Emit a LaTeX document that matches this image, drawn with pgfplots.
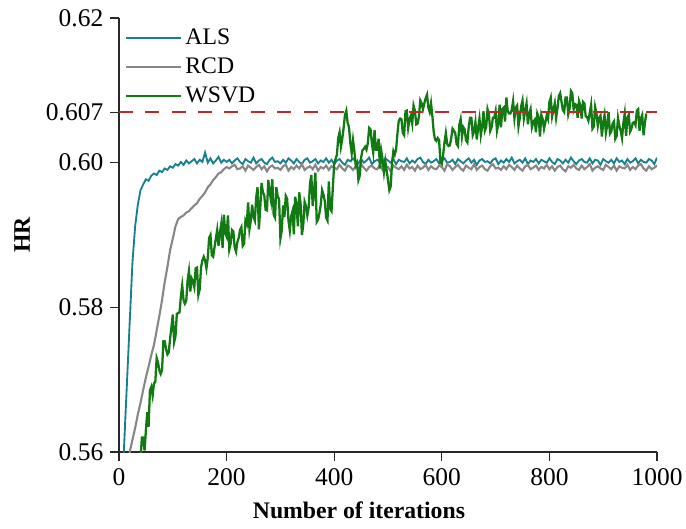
\documentclass[border=0pt]{standalone}
\usepackage{fontspec}
\setmainfont{Liberation Serif}
\usepackage{pgfplots}
\pgfplotsset{compat=1.18}
\definecolor{alsc}{RGB}{22,128,140}
\definecolor{rcdc}{RGB}{135,135,135}
\definecolor{wsvdc}{RGB}{18,122,18}
\definecolor{refc}{RGB}{196,38,38}
\definecolor{axc}{RGB}{40,40,40}
\begin{document}
\begin{tikzpicture}
\useasboundingbox (-2.38cm,-1.52cm) rectangle (11.34cm,9.04cm);
\begin{axis}[
  at={(0,0)}, anchor=south west,
  scale only axis,
  width=10.76cm, height=8.68cm,
  xmin=0, xmax=1000, ymin=0.56, ymax=0.62,
  axis lines*=left,
  axis line style={draw=axc, line width=0.8pt},
  tick align=outside,
  tickwidth=0.17cm,
  tick style={axc, line width=0.6pt},
  xtick={0,200,400,600,800,1000},
  ytick={0.56,0.58,0.60,0.607,0.62},
  yticklabels={0.56,0.58,0.60,0.607,0.62},
  /pgf/number format/assume math mode=true,
  /pgf/number format/1000 sep={},
  ticklabel style={font=\fontsize{14.5}{16}\selectfont},
  yticklabel style={xshift=-0.02cm},
  xticklabel style={yshift=-0.03cm},
  xlabel={\textbf{Number of iterations}},
  ylabel={\textbf{HR}},
  label style={font=\fontsize{13.5}{15}\selectfont},
  xlabel style={at={(axis description cs:0.446,-0.134)}, anchor=center},
  ylabel style={at={(axis description cs:-0.18,0.5)}, anchor=center},
  clip mode=individual,
  legend style={at={(0.0,0.992)}, anchor=north west, draw=none, fill=none,
    font=\fontsize{13.5}{15}\selectfont, row sep=2pt},
  legend cell align={left},
  legend image code/.code={\draw[#1] (0cm,0cm) -- (1.1cm,0cm);},
]
% ALS
\addplot[alsc, line width=1.05pt] coordinates {
(5,0.5535) (10,0.5617) (15,0.5699) (20,0.5781) (25,0.5862) (30,0.5912) (35,0.5942) (40,0.5962)
(45,0.5970) (50,0.5977) (55,0.5975) (60,0.5982) (65,0.5985) (70,0.5983) (75,0.5989) (80,0.5987)
(85,0.5992) (90,0.5990) (95,0.5995) (100,0.5993) (105,0.5998) (110,0.5996) (115,0.6001) (120,0.5997)
(125,0.6003) (130,0.5999) (135,0.6002) (140,0.6005) (145,0.5999) (150,0.6004) (155,0.6001) (160,0.6014)
(165,0.6000) (170,0.6006) (175,0.5999) (180,0.6003) (185,0.6008) (190,0.6000) (195,0.6004) (200,0.6001)
(205,0.6004) (210,0.5999) (215,0.6003) (220,0.6006) (225,0.6001) (230,0.5998) (235,0.6005) (240,0.6002)
(245,0.6000) (250,0.6007) (255,0.5999) (260,0.6003) (265,0.6005) (270,0.6000) (275,0.5998) (280,0.6004)
(285,0.6007) (290,0.6001) (295,0.6002) (300,0.5999) (305,0.6004) (310,0.6000) (315,0.6006) (320,0.6003)
(325,0.5999) (330,0.6005) (335,0.6001) (340,0.5998) (345,0.6004) (350,0.6006) (355,0.6000) (360,0.6002)
(365,0.6005) (370,0.5999) (375,0.6003) (380,0.6001) (385,0.6006) (390,0.6000) (395,0.6004) (400,0.5998)
(405,0.6003) (410,0.6005) (415,0.6000) (420,0.5997) (425,0.6004) (430,0.6002) (435,0.6006) (440,0.6001)
(445,0.5999) (450,0.6005) (455,0.6000) (460,0.6003) (465,0.6007) (470,0.5998) (475,0.6002) (480,0.6004)
(485,0.6001) (490,0.5999) (495,0.6006) (500,0.6003) (505,0.6000) (510,0.6005) (515,0.5998) (520,0.6004)
(525,0.6002) (530,0.6001) (535,0.6006) (540,0.5999) (545,0.6003) (550,0.6000) (555,0.6005) (560,0.6007)
(565,0.6001) (570,0.5998) (575,0.6004) (580,0.6000) (585,0.6002) (590,0.6005) (595,0.5999) (600,0.6003)
(605,0.6006) (610,0.6000) (615,0.6001) (620,0.6004) (625,0.5998) (630,0.6005) (635,0.6002) (640,0.5999)
(645,0.6003) (650,0.6006) (655,0.6000) (660,0.6004) (665,0.5997) (670,0.6003) (675,0.6005) (680,0.6001)
(685,0.6002) (690,0.5999) (695,0.6004) (700,0.6006) (705,0.5998) (710,0.6003) (715,0.6000) (720,0.6005)
(725,0.6001) (730,0.6007) (735,0.5999) (740,0.6002) (745,0.6004) (750,0.6000) (755,0.6006) (760,0.5998)
(765,0.6003) (770,0.6001) (775,0.6005) (780,0.5999) (785,0.6004) (790,0.6002) (795,0.6000) (800,0.6006)
(805,0.6001) (810,0.5998) (815,0.6005) (820,0.6003) (825,0.5999) (830,0.6004) (835,0.6000) (840,0.6007)
(845,0.6002) (850,0.5998) (855,0.6003) (860,0.6005) (865,0.6001) (870,0.6000) (875,0.6006) (880,0.5999)
(885,0.6004) (890,0.6003) (895,0.5997) (900,0.6005) (905,0.6002) (910,0.6000) (915,0.6004) (920,0.5999)
(925,0.6006) (930,0.6001) (935,0.6003) (940,0.5998) (945,0.6005) (950,0.6000) (955,0.6002) (960,0.6006)
(965,0.5999) (970,0.6004) (975,0.6001) (980,0.6000) (985,0.6005) (990,0.6003) (995,0.5998) (1000,0.6007)
};
\addlegendentry{ALS}
% RCD
\addplot[rcdc, line width=1.2pt] coordinates {
(15,0.5583) (20,0.5600) (25,0.5617) (30,0.5633) (35,0.5652) (40,0.5668) (45,0.5686) (50,0.5703)
(55,0.5718) (60,0.5734) (65,0.5748) (70,0.5768) (75,0.5788) (80,0.5810) (85,0.5835) (90,0.5856)
(95,0.5879) (100,0.5895) (105,0.5912) (110,0.5922) (115,0.5925) (120,0.5927) (125,0.5931) (130,0.5933)
(135,0.5937) (140,0.5941) (145,0.5944) (150,0.5950) (155,0.5954) (160,0.5959) (165,0.5966) (170,0.5970)
(175,0.5976) (180,0.5980) (185,0.5985) (190,0.5987) (195,0.5991) (200,0.5994) (205,0.5992) (210,0.5995)
(215,0.5997) (220,0.5991) (225,0.5992) (230,0.5995) (235,0.5989) (240,0.5996) (245,0.5993) (250,0.5990)
(255,0.5994) (260,0.5997) (265,0.5991) (270,0.5995) (275,0.5988) (280,0.5994) (285,0.5996) (290,0.5992)
(295,0.5993) (300,0.5990) (305,0.5995) (310,0.5997) (315,0.5989) (320,0.5994) (325,0.5991) (330,0.5996)
(335,0.5992) (340,0.5998) (345,0.5990) (350,0.5993) (355,0.5995) (360,0.5991) (365,0.5997) (370,0.5989)
(375,0.5994) (380,0.5992) (385,0.5996) (390,0.5990) (395,0.5995) (400,0.5993) (405,0.5991) (410,0.5997)
(415,0.5992) (420,0.5989) (425,0.5996) (430,0.5994) (435,0.5990) (440,0.5995) (445,0.5991) (450,0.5998)
(455,0.5993) (460,0.5989) (465,0.5994) (470,0.5996) (475,0.5992) (480,0.5991) (485,0.5997) (490,0.5990)
(495,0.5995) (500,0.5994) (505,0.5988) (510,0.5996) (515,0.5993) (520,0.5991) (525,0.5995) (530,0.5990)
(535,0.5997) (540,0.5992) (545,0.5994) (550,0.5989) (555,0.5996) (560,0.5991) (565,0.5993) (570,0.5997)
(575,0.5990) (580,0.5995) (585,0.5992) (590,0.5991) (595,0.5996) (600,0.5994) (605,0.5989) (610,0.5998)
(615,0.5995) (620,0.5990) (625,0.5994) (630,0.5997) (635,0.5992) (640,0.5989) (645,0.5996) (650,0.5993)
(655,0.5991) (660,0.5998) (665,0.5990) (670,0.5994) (675,0.5996) (680,0.5991) (685,0.5989) (690,0.5995)
(695,0.5998) (700,0.5992) (705,0.5993) (710,0.5990) (715,0.5995) (720,0.5991) (725,0.5997) (730,0.5994)
(735,0.5990) (740,0.5996) (745,0.5992) (750,0.5989) (755,0.5995) (760,0.5997) (765,0.5991) (770,0.5993)
(775,0.5996) (780,0.5990) (785,0.5994) (790,0.5992) (795,0.5997) (800,0.5991) (805,0.5995) (810,0.5989)
(815,0.5994) (820,0.5996) (825,0.5991) (830,0.5988) (835,0.5995) (840,0.5993) (845,0.5997) (850,0.5992)
(855,0.5990) (860,0.5996) (865,0.5991) (870,0.5994) (875,0.5998) (880,0.5989) (885,0.5993) (890,0.5995)
(895,0.5992) (900,0.5990) (905,0.5997) (910,0.5994) (915,0.5991) (920,0.5996) (925,0.5989) (930,0.5995)
(935,0.5993) (940,0.5992) (945,0.5997) (950,0.5990) (955,0.5994) (960,0.5991) (965,0.5996) (970,0.5998)
(975,0.5992) (980,0.5989) (985,0.5995) (990,0.5991) (995,0.5993) (1000,0.5996)
};
\addlegendentry{RCD}
% WSVD
\addplot[wsvdc, line width=1.3pt] coordinates {
(40,0.5590) (42.5,0.5620) (45,0.5620) (47.5,0.5602) (50,0.5630) (52.5,0.5655) (55,0.5635) (57.5,0.5685)
(60,0.5690) (62.5,0.5678) (65,0.5695) (67.5,0.5697) (70,0.5730) (72.5,0.5724) (75,0.5713) (77.5,0.5708)
(80,0.5713) (82.5,0.5753) (85,0.5753) (87.5,0.5742) (90,0.5735) (92.5,0.5738) (95,0.5757) (97.5,0.5773)
(100,0.5790) (102.5,0.5752) (105,0.5760) (107.5,0.5791) (110,0.5792) (112.5,0.5793) (115,0.5815) (117.5,0.5830)
(120,0.5810) (122.5,0.5805) (125,0.5809) (127.5,0.5837) (130,0.5850) (132.5,0.5822) (135,0.5840) (137.5,0.5836)
(140,0.5828) (142.5,0.5854) (145,0.5855) (147.5,0.5817) (150,0.5825) (152.5,0.5855) (155,0.5865) (157.5,0.5870)
(160,0.5865) (162.5,0.5854) (165,0.5868) (167.5,0.5896) (170,0.5900) (172.5,0.5872) (175,0.5870) (177.5,0.5883)
(180,0.5895) (182.5,0.5907) (185,0.5885) (187.5,0.5903) (190,0.5915) (192.5,0.5882) (195,0.5928) (197.5,0.5903)
(200,0.5898) (202.5,0.5927) (205,0.5880) (207.5,0.5888) (210,0.5907) (212.5,0.5905) (215,0.5883) (217.5,0.5877)
(220,0.5890) (222.5,0.5896) (225,0.5907) (227.5,0.5911) (230,0.5885) (232.5,0.5888) (235,0.5920) (237.5,0.5915)
(240,0.5945) (242.5,0.5908) (245,0.5920) (247.5,0.5942) (250,0.5925) (252.5,0.5920) (255,0.5952) (257.5,0.5966)
(260,0.5908) (262.5,0.5937) (265,0.5972) (267.5,0.5959) (270,0.5955) (272.5,0.5935) (275,0.5934) (277.5,0.5976)
(280,0.5960) (282.5,0.5948) (285,0.5977) (287.5,0.5928) (290,0.5924) (292.5,0.5966) (295,0.5953) (297.5,0.5950)
(300,0.5895) (302.5,0.5906) (305,0.5941) (307.5,0.5925) (310,0.5954) (312.5,0.5950) (315,0.5920) (317.5,0.5906)
(320,0.5926) (322.5,0.5933) (325,0.5901) (327.5,0.5953) (330,0.5941) (332.5,0.5912) (335,0.5959) (337.5,0.5944)
(340,0.5900) (342.5,0.5914) (345,0.5946) (347.5,0.5940) (350,0.5927) (352.5,0.5938) (355,0.5971) (357.5,0.5983)
(360,0.5940) (362.5,0.5961) (365,0.5986) (367.5,0.5918) (370,0.5921) (372.5,0.5930) (375,0.5942) (377.5,0.5962)
(380,0.5956) (382.5,0.5947) (385,0.5924) (387.5,0.5920) (390,0.5974) (392.5,0.5936) (395,0.5933) (397.5,0.5966)
(400,0.5999) (402.5,0.6005) (405,0.6011) (407.5,0.6034) (410,0.6042) (412.5,0.6022) (415,0.6033) (417.5,0.6048)
(420,0.6066) (422.5,0.6072) (425,0.6055) (427.5,0.6049) (430,0.6027) (432.5,0.6013) (435,0.6031) (437.5,0.6016)
(440,0.5996) (442.5,0.6000) (445,0.5976) (447.5,0.5982) (450,0.6007) (452.5,0.6017) (455,0.6019) (457.5,0.6022)
(460,0.6018) (462.5,0.6027) (465,0.6048) (467.5,0.6046) (470,0.6027) (472.5,0.6014) (475,0.6045) (477.5,0.6018)
(480,0.6018) (482.5,0.6033) (485,0.5992) (487.5,0.6016) (490,0.6004) (492.5,0.5987) (495,0.6002) (497.5,0.5989)
(500,0.5976) (502.5,0.5962) (505,0.5967) (507.5,0.6000) (510,0.6016) (512.5,0.6011) (515,0.6018) (517.5,0.6040)
(520,0.6058) (522.5,0.6061) (525,0.6060) (527.5,0.6041) (530,0.6038) (532.5,0.6071) (535,0.6072) (537.5,0.6048)
(540,0.6060) (542.5,0.6065) (545,0.6054) (547.5,0.6079) (550,0.6072) (552.5,0.6053) (555,0.6054) (557.5,0.6064)
(560,0.6086) (562.5,0.6082) (565,0.6074) (567.5,0.6082) (570,0.6089) (572.5,0.6094) (575,0.6076) (577.5,0.6070)
(580,0.6082) (582.5,0.6064) (585,0.6042) (587.5,0.6032) (590,0.6030) (592.5,0.6034) (595,0.6031) (597.5,0.6000)
(600,0.5998) (602.5,0.6011) (605,0.6028) (607.5,0.6041) (610,0.6026) (612.5,0.6023) (615,0.6024) (617.5,0.6034)
(620,0.6047) (622.5,0.6044) (625,0.6041) (627.5,0.6026) (630,0.6023) (632.5,0.6052) (635,0.6060) (637.5,0.6036)
(640,0.6049) (642.5,0.6046) (645,0.6031) (647.5,0.6028) (650,0.6049) (652.5,0.6062) (655,0.6062) (657.5,0.6038)
(660,0.6043) (662.5,0.6056) (665,0.6032) (667.5,0.6048) (670,0.6061) (672.5,0.6038) (675,0.6050) (677.5,0.6071)
(680,0.6044) (682.5,0.6049) (685,0.6074) (687.5,0.6067) (690,0.6044) (692.5,0.6049) (695,0.6062) (697.5,0.6062)
(700,0.6071) (702.5,0.6044) (705,0.6054) (707.5,0.6080) (710,0.6049) (712.5,0.6074) (715,0.6076) (717.5,0.6057)
(720,0.6090) (722.5,0.6071) (725,0.6068) (727.5,0.6068) (730,0.6073) (732.5,0.6085) (735,0.6061) (737.5,0.6076)
(740,0.6079) (742.5,0.6050) (745,0.6062) (747.5,0.6078) (750,0.6086) (752.5,0.6061) (755,0.6072) (757.5,0.6082)
(760,0.6053) (762.5,0.6068) (765,0.6074) (767.5,0.6049) (770,0.6056) (772.5,0.6059) (775,0.6042) (777.5,0.6068)
(780,0.6063) (782.5,0.6036) (785,0.6066) (787.5,0.6060) (790,0.6047) (792.5,0.6056) (795,0.6065) (797.5,0.6060)
(800,0.6084) (802.5,0.6090) (805,0.6064) (807.5,0.6073) (810,0.6082) (812.5,0.6062) (815,0.6075) (817.5,0.6092)
(820,0.6096) (822.5,0.6084) (825,0.6073) (827.5,0.6070) (830,0.6090) (832.5,0.6090) (835,0.6067) (837.5,0.6075)
(840,0.6099) (842.5,0.6096) (845,0.6074) (847.5,0.6081) (850,0.6080) (852.5,0.6062) (855,0.6085) (857.5,0.6079)
(860,0.6061) (862.5,0.6084) (865,0.6082) (867.5,0.6064) (870,0.6063) (872.5,0.6058) (875,0.6069) (877.5,0.6080)
(880,0.6047) (882.5,0.6050) (885,0.6077) (887.5,0.6068) (890,0.6051) (892.5,0.6062) (895,0.6065) (897.5,0.6036)
(900,0.6055) (902.5,0.6066) (905,0.6041) (907.5,0.6052) (910,0.6070) (912.5,0.6040) (915,0.6043) (917.5,0.6054)
(920,0.6057) (922.5,0.6033) (925,0.6037) (927.5,0.6062) (930,0.6051) (932.5,0.6044) (935,0.6034) (937.5,0.6055)
(940,0.6068) (942.5,0.6037) (945,0.6062) (947.5,0.6066) (950,0.6043) (952.5,0.6047) (955,0.6055) (957.5,0.6056)
(960,0.6052) (962.5,0.6072) (965,0.6074) (967.5,0.6044) (970,0.6061) (972.5,0.6066) (975,0.6038) (977.5,0.6055)
(980,0.6068)
};
\addlegendentry{WSVD}
% reference level
\addplot[refc, line width=1.1pt, dash pattern=on 8pt off 7pt, forget plot] coordinates {
(0,0.607) (1000,0.607)
};
% outward tick marks
\pgfplotsinvokeforeach{0,200,400,600,800,1000}{
  \draw[axc, line width=0.6pt] (axis cs:#1,0.56) -- ([yshift=-0.17cm]axis cs:#1,0.56);
}
\pgfplotsinvokeforeach{0.56,0.58,0.60,0.607,0.62}{
  \draw[axc, line width=0.6pt] (axis cs:0,#1) -- ([xshift=-0.17cm]axis cs:0,#1);
}
\end{axis}
\end{tikzpicture}
\end{document}
